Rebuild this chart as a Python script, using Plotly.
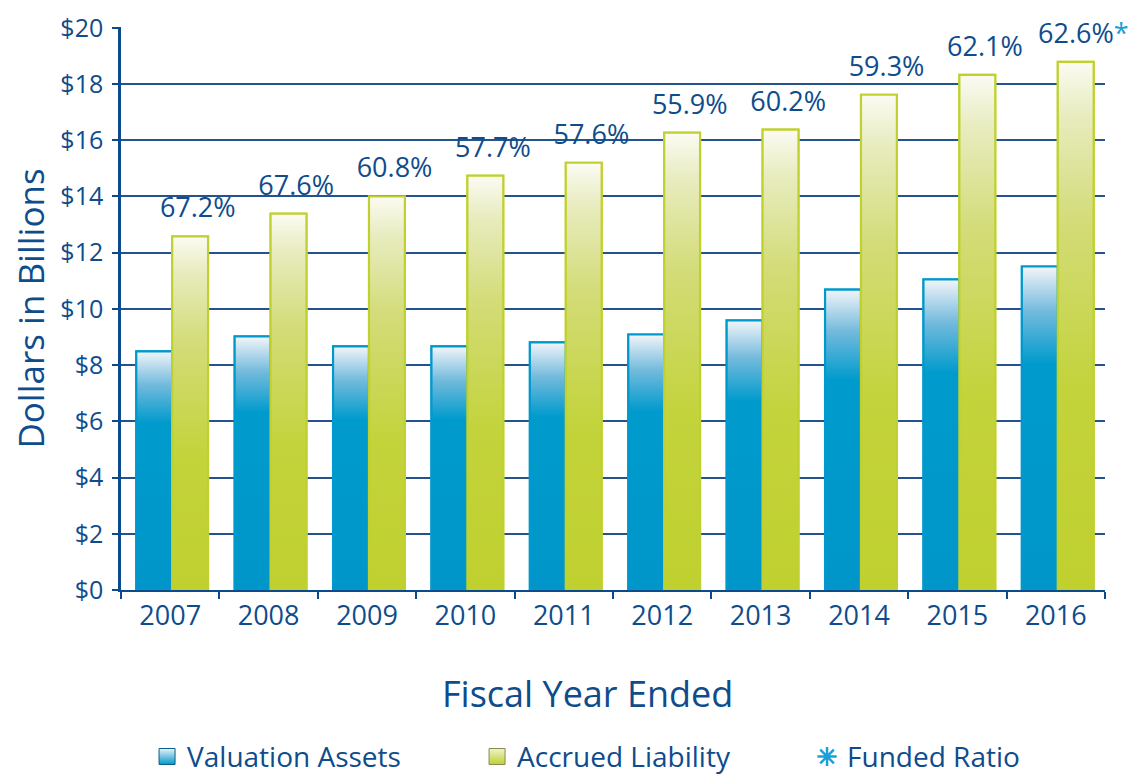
import plotly.graph_objects as go

# ---- data ----
years = ['2007', '2008', '2009', '2010', '2011', '2012', '2013', '2014', '2015', '2016']
valuation_assets = [8.49, 9.02, 8.67, 8.67, 8.81, 9.09, 9.59, 10.69, 11.05, 11.51]
accrued_liability = [12.58, 13.39, 14.00, 14.74, 15.20, 16.27, 16.38, 17.62, 18.33, 18.79]
funded_ratio = ['67.2%', '67.6%', '60.8%', '57.7%', '57.6%', '55.9%', '60.2%', '59.3%', '62.1%', '62.6%']
y_tick_values = [0, 2, 4, 6, 8, 10, 12, 14, 16, 18, 20]
y_tick_labels = ['$0', '$2', '$4', '$6', '$8', '$10', '$12', '$14', '$16', '$18', '$20']

# ---- styles ----
NAVY = '#0E4C8C'
BLUE = '#0099CC'
GREEN = '#C0D12F'
STAR = '#1AA0D8'
FONT = 'Open Sans'
W = 0.365  # bar width in category units

blue_scale = [[0, '#0096CA'], [0.70, '#009BCD'], [0.86, '#72BADC'], [1, '#F2F5F9']]
green_scale = [[0, '#BFD02F'], [0.38, '#C3D33B'], [0.70, '#D3DC78'], [0.90, '#E8ECBF'], [1, '#FBFBF3']]

idx = list(range(len(years)))
fig = go.Figure()

# base bars (data marks)
fig.add_trace(go.Bar(x=idx, y=valuation_assets, width=W, offset=-W + 0.02, name='Valuation Assets',
                     marker=dict(color=BLUE, line=dict(color=BLUE, width=2)), showlegend=False))
fig.add_trace(go.Bar(x=idx, y=accrued_liability, width=W, offset=0.02, name='Accrued Liability',
                     marker=dict(color=GREEN, line=dict(color=GREEN, width=2)), showlegend=False))

# gradient overlays, one per bar, built from the same data arrays
for series, scale, col, off in [(valuation_assets, blue_scale, BLUE, -W + 0.02),
                                (accrued_liability, green_scale, GREEN, 0.02)]:
    for i, v in zip(idx, series):
        x0, x1 = i + off, i + off + W
        fig.add_trace(go.Scatter(
            x=[x0, x0, x1, x1, x0], y=[0, v, v, 0, 0], mode='lines', fill='toself',
            fillgradient=dict(type='vertical', colorscale=scale),
            line=dict(color=col, width=2.2), showlegend=False, hoverinfo='skip'))

# funded ratio labels
labels = list(funded_ratio)
labels[-1] = labels[-1] + '<span style="color:%s">*</span>' % STAR
fig.add_trace(go.Scatter(x=[i + 0.28 for i in idx], y=accrued_liability, mode='markers+text', text=labels,
                         marker=dict(size=18, opacity=0), cliponaxis=False,
                         textposition='top center', textfont=dict(family=FONT, size=27, color=NAVY),
                         showlegend=False, hoverinfo='skip'))

# legend entries
fig.add_trace(go.Scatter(x=[None], y=[None], mode='markers', name='Valuation Assets', legendwidth=285,
                         marker=dict(symbol='square', size=16, color='#EAF2F8',
                                     gradient=dict(type='vertical', color=BLUE),
                                     line=dict(color='#0A5E8C', width=1))))
fig.add_trace(go.Scatter(x=[None], y=[None], mode='markers', name='Accrued Liability', legendwidth=285,
                         marker=dict(symbol='square', size=16, color='#F0F2D0',
                                     gradient=dict(type='vertical', color=GREEN),
                                     line=dict(color='#8A8A50', width=1))))
fig.add_trace(go.Scatter(x=[None], y=[None], mode='markers', name='Funded Ratio',
                         marker=dict(symbol='asterisk-open', size=16, color=STAR,
                                     line=dict(color=STAR, width=2.5))))

fig.update_layout(
    width=1140, height=777,
    margin=dict(l=121, r=35, t=27, b=187),
    paper_bgcolor='white', plot_bgcolor='white',
    font=dict(family=FONT, color=NAVY),
    barmode='overlay',
    showlegend=True,
    legend=dict(orientation='h', xref='container', x=0.129, xanchor='left',
                yref='container', y=0.026, yanchor='middle',
                font=dict(family=FONT, size=28, color=NAVY),
                itemsizing='trace', bgcolor='rgba(0,0,0,0)'),
    xaxis=dict(range=[-0.5, 9.5], tickmode='array', tickvals=idx, ticktext=years,
               ticks='outside', ticklen=1, tickcolor='rgba(0,0,0,0)', automargin=False,
               tickfont=dict(family=FONT, size=27, color=NAVY),
               showline=True, linecolor='#0B4A8C', linewidth=2, showgrid=False, zeroline=False,
               minor=dict(tick0=-0.5, dtick=1, ticks='outside', ticklen=7, tickwidth=2,
                          tickcolor='#0B4A8C', showgrid=False)),
    yaxis=dict(range=[0, 20.03], tickmode='array', tickvals=y_tick_values, ticktext=y_tick_labels,
               ticks='outside', ticklen=6, tickwidth=2, tickcolor='#0B4A8C', automargin=False,
               tickfont=dict(family=FONT, size=25, color=NAVY), ticklabelstandoff=4,
               showline=True, linecolor='#0B4A8C', linewidth=2.5,
               showgrid=True, gridcolor='#24528C', gridwidth=1.6, zeroline=False,
               title=dict(text='Dollars in Billions', font=dict(family=FONT, size=35, color=NAVY), standoff=6)),
    annotations=[dict(text='Fiscal Year Ended', xref='paper', yref='paper', x=0.4736, y=-0.183,
                      xanchor='center', yanchor='middle', showarrow=False,
                      font=dict(family=FONT, size=36, color=NAVY))],
)

fig.write_html('out.html')
